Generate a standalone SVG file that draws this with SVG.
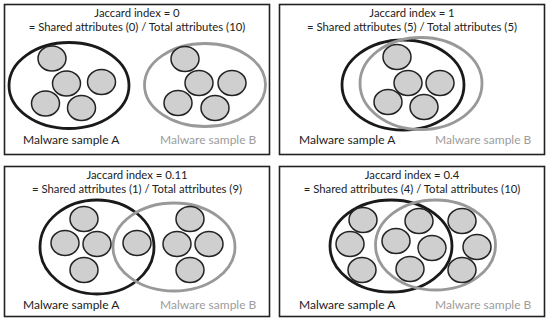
<svg xmlns="http://www.w3.org/2000/svg" width="550" height="322" viewBox="0 0 550 322">
<style>
.frame{fill:#fff;stroke:#222;stroke-width:1.6}
.setA{fill:none;stroke:#1a1a1a;stroke-width:2.8}
.setB{fill:none;stroke:#999;stroke-width:2.8}
.item{fill:#cfcfcf;stroke:#222;stroke-width:1.5}
.t{font-family:"Lato","Liberation Sans",sans-serif;font-size:11.3px;fill:#222;text-anchor:middle}
.la{font-family:"Lato","Liberation Sans",sans-serif;font-size:12px;fill:#222}
.lb{font-family:"Lato","Liberation Sans",sans-serif;font-size:12px;fill:#9c9c9c}
</style>
<rect width="550" height="322" fill="#fff"/>
<g id="panel1">
<rect class="frame" x="4.5" y="4.5" width="265" height="150"/>
<text class="t" x="137" y="17">Jaccard index = 0</text>
<text class="t" x="137" y="31">= Shared attributes (0) / Total attributes (10)</text>
<g id="p1-setA"><ellipse class="setA" cx="69" cy="85.5" rx="60" ry="43"/></g>
<g id="p1-setB"><ellipse class="setB" cx="205" cy="85" rx="60.5" ry="41.5"/></g>
<g id="p1-items">
<ellipse class="item" cx="52" cy="58.5" rx="14" ry="12.5"/>
<ellipse class="item" cx="66.5" cy="83.5" rx="14" ry="12.5"/>
<ellipse class="item" cx="101.5" cy="82" rx="14" ry="12.5"/>
<ellipse class="item" cx="45.5" cy="103.5" rx="14" ry="12.5"/>
<ellipse class="item" cx="81.5" cy="108" rx="14" ry="12.5"/>
<ellipse class="item" cx="185" cy="59" rx="14" ry="12.5"/>
<ellipse class="item" cx="199" cy="83" rx="14" ry="12.5"/>
<ellipse class="item" cx="232" cy="83" rx="14" ry="12.5"/>
<ellipse class="item" cx="178" cy="103" rx="14" ry="12.5"/>
<ellipse class="item" cx="215" cy="108" rx="14" ry="12.5"/>
</g>
<text class="la" x="23" y="144">Malware sample A</text>
<text class="lb" x="160" y="144">Malware sample B</text>
</g>
<g id="panel2">
<rect class="frame" x="279.5" y="4.5" width="265" height="150"/>
<text class="t" x="412" y="17">Jaccard index = 1</text>
<text class="t" x="412" y="31">= Shared attributes (5) / Total attributes (5)</text>
<g id="p2-setA"><ellipse class="setA" cx="403" cy="85" rx="61" ry="45"/></g>
<g id="p2-setB"><ellipse class="setB" cx="421" cy="83.5" rx="61" ry="46"/></g>
<g id="p2-items">
<ellipse class="item" cx="397" cy="57" rx="14" ry="12.5"/>
<ellipse class="item" cx="408" cy="83" rx="14" ry="12.5"/>
<ellipse class="item" cx="440" cy="83" rx="14" ry="12.5"/>
<ellipse class="item" cx="388" cy="102" rx="14" ry="12.5"/>
<ellipse class="item" cx="424" cy="107" rx="14" ry="12.5"/>
</g>
<text class="la" x="299" y="144">Malware sample A</text>
<text class="lb" x="435" y="144">Malware sample B</text>
</g>
<g id="panel3">
<rect class="frame" x="4.5" y="166.5" width="265" height="150"/>
<text class="t" x="137" y="179">Jaccard index = 0.11</text>
<text class="t" x="137" y="193">= Shared attributes (1) / Total attributes (9)</text>
<g id="p3-setA"><ellipse class="setA" cx="97" cy="247" rx="57" ry="47"/></g>
<g id="p3-setB"><ellipse class="setB" cx="174" cy="247" rx="61" ry="44"/></g>
<g id="p3-items">
<ellipse class="item" cx="84" cy="219" rx="14" ry="12.5"/>
<ellipse class="item" cx="65" cy="243" rx="14" ry="12.5"/>
<ellipse class="item" cx="97" cy="244" rx="14" ry="12.5"/>
<ellipse class="item" cx="84" cy="270" rx="14" ry="12.5"/>
<ellipse class="item" cx="137" cy="243" rx="14" ry="12.5"/>
<ellipse class="item" cx="190" cy="219" rx="14" ry="12.5"/>
<ellipse class="item" cx="177" cy="244" rx="14" ry="12.5"/>
<ellipse class="item" cx="209" cy="244" rx="14" ry="12.5"/>
<ellipse class="item" cx="190" cy="270" rx="14" ry="12.5"/>
</g>
<text class="la" x="23" y="309">Malware sample A</text>
<text class="lb" x="160" y="309">Malware sample B</text>
</g>
<g id="panel4">
<rect class="frame" x="279.5" y="166.5" width="265" height="150"/>
<text class="t" x="412" y="179">Jaccard index = 0.4</text>
<text class="t" x="412" y="193">= Shared attributes (4) / Total attributes (10)</text>
<g id="p4-setA"><ellipse class="setA" cx="391" cy="246" rx="61" ry="46"/></g>
<g id="p4-setB"><ellipse class="setB" cx="435.5" cy="245" rx="60" ry="45"/></g>
<g id="p4-items">
<ellipse class="item" cx="363" cy="220" rx="14" ry="12.5"/>
<ellipse class="item" cx="350" cy="244" rx="14" ry="12.5"/>
<ellipse class="item" cx="362" cy="270" rx="14" ry="12.5"/>
<ellipse class="item" cx="419" cy="221" rx="14" ry="12.5"/>
<ellipse class="item" cx="396" cy="241" rx="14" ry="12.5"/>
<ellipse class="item" cx="432" cy="248" rx="14" ry="12.5"/>
<ellipse class="item" cx="410" cy="269" rx="14" ry="12.5"/>
<ellipse class="item" cx="462" cy="221" rx="14" ry="12.5"/>
<ellipse class="item" cx="477" cy="247" rx="14" ry="12.5"/>
<ellipse class="item" cx="462" cy="270" rx="14" ry="12.5"/>
</g>
<text class="la" x="299" y="309">Malware sample A</text>
<text class="lb" x="435" y="309">Malware sample B</text>
</g>
</svg>
